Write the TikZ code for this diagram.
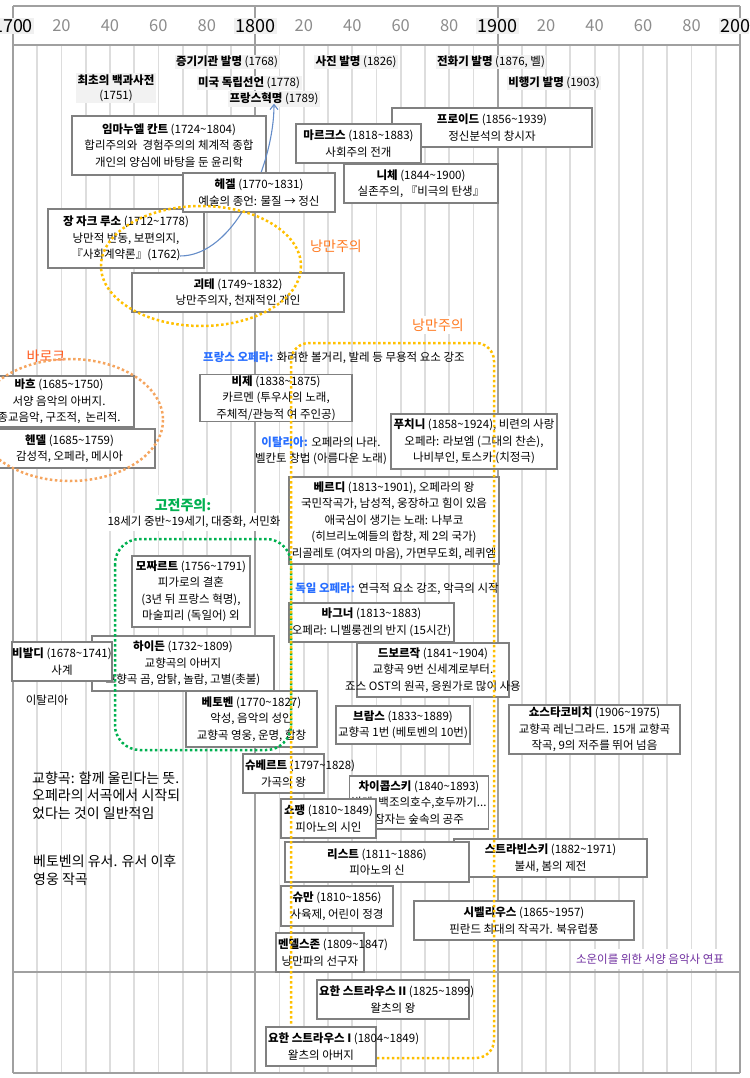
\documentclass[tikz,border=0pt]{standalone}
\usepackage{fontspec}
\setmainfont{Noto Sans CJK KR}
\usetikzlibrary{arrows.meta}

\definecolor{gridlight}{RGB}{221,221,221}
\definecolor{griddark}{RGB}{160,160,160}
\definecolor{boxline}{RGB}{128,128,128}
\definecolor{eventbg}{RGB}{242,242,242}
\definecolor{romanorange}{RGB}{255,120,30}
\definecolor{baroqueorange}{RGB}{255,90,30}
\definecolor{baroquedots}{RGB}{245,165,95}
\definecolor{romangold}{RGB}{255,192,0}
\definecolor{classicgreen}{RGB}{0,176,80}
\definecolor{operablue}{RGB}{40,110,255}
\definecolor{captionpurple}{RGB}{112,48,160}
\definecolor{arrowblue}{RGB}{100,140,200}

\tikzset{
  minorline/.style={gridlight, line width=1.8pt},
  majorline/.style={griddark, line width=2pt},
  yearlab/.style={text=black!45, font=\fontsize{16.5}{16.5}\selectfont},
  centlab/.style={fill=black!6, inner sep=1.5pt, font=\fontsize{18}{18}\selectfont},
  event/.style={fill=eventbg, inner sep=1.5pt, align=center, font=\fontsize{11.5}{15}\selectfont},
  box/.style={draw=boxline, line width=1.2pt, fill=white, align=center, inner xsep=2pt, inner ysep=1pt, font=\fontsize{11.5}{16.5}\selectfont},
  wh/.style 2 args={minimum width=#1pt, minimum height=#2pt},
  plain/.style={align=center, inner sep=1pt, font=\fontsize{11.5}{16.5}\selectfont},
  eralab/.style={font=\fontsize{14}{15}\selectfont, inner sep=1pt},
  bignote/.style={align=left, inner sep=0pt, font=\fontsize{14}{17.5}\selectfont},
  golddots/.style={romangold, line width=2.5pt, dash pattern=on 2.5pt off 2.5pt},
  histarrow/.style={arrowblue, line width=1.1pt, -{Straight Barb[length=5pt, width=8pt]}}
}

\begin{document}
\begin{tikzpicture}[x=1pt, y=-1pt]
\useasboundingbox (0,0) rectangle (749,1078);
\clip (0,0) rectangle (749,1078);

% time axis
\foreach \k in {1,...,29}
  \draw[minorline] ({13+24.233*\k},45) -- ({13+24.233*\k},1073);
\foreach \k in {0,10,20,30}
  \draw[majorline] ({13+24.233*\k},6) -- ({13+24.233*\k},1073);
\foreach \y in {6,45,972,1073}
  \draw[majorline] (13,\y) -- (740,\y);
\foreach \k/\lab in {2/20,4/40,6/60,8/80,12/20,14/40,16/60,18/80,22/20,24/40,26/60,28/80}
  \node[yearlab] (y\k) at ({13+24.233*\k},26) {\lab};
\foreach \k/\lab in {0/1700,10/1800,20/1900,30/2000}
  \node[centlab] (c\k) at ({13+24.233*\k},26) {\lab};

% events
\node[event] (steam) at (227,62) {\textbf{증기기관 발명} (1768)};
\node[event] (photo) at (356,62) {\textbf{사진 발명} (1826)};
\node[event] (phone) at (491,62) {\textbf{전화기 발명} (1876, 벨)};
\node[event] (encyc) at (116,88) {\textbf{최초의 백과사전}\\(1751)};
\node[event] (usa) at (249,83) {\textbf{미국 독립선언} (1778)};
\node[event] (france) at (274,99) {\textbf{프랑스혁명} (1789)};
\node[event] (plane) at (554,83) {\textbf{비행기 발명} (1903)};

% philosophers
\node[box, wh={200}{39}] (freud) at (492,127.5) {\textbf{프로이드} (1856\textasciitilde1939)\\정신분석의 창시자};
\node[box, wh={125}{39}] (marx) at (358.5,143.5) {\textbf{마르크스} (1818\textasciitilde1883)\\사회주의 전개};
\node[box, wh={154}{39}] (nietzsche) at (421,183.5) {\textbf{니체} (1844\textasciitilde1900)\\실존주의, 『비극의 탄생』};
\node[box, wh={156}{59}] (rousseau) at (126,238.5) {\textbf{장 자크 루소} (1712\textasciitilde1778)\\낭만적 반동, 보편의지,\\『사회계약론』(1762)};
\node[box, wh={194}{59}] (kant) at (169,145.5) {\textbf{임마누엘 칸트} (1724\textasciitilde1804)\\합리주의와\ \ 경험주의의 체계적 종합\\개인의 양심에 바탕을 둔 윤리학};
\coordinate (contract) at (180,256);
\draw[histarrow] (contract) .. controls +(55,0) and +(0,60) .. ([yshift=3pt]france.south);
\node[box, wh={152}{39}] (hegel) at (259,192.5) {\textbf{헤겔} (1770\textasciitilde1831)\\예술의 종언: 물질 → 정신};
\node[box, wh={212}{39}] (goethe) at (238,292.5) {\textbf{괴테} (1749\textasciitilde1832)\\낭만주의자, 천재적인 개인};

% era labels and opera notes
\node[eralab, text=romanorange] (roman1) at (336,246) {낭만주의};
\node[eralab, text=romanorange, fill=white, inner sep=3pt] (roman2) at (438,325) {낭만주의};
\node[eralab, text=baroqueorange] (baroque) at (46,356) {바로크};
\node[plain] (frenchop) at (334,358) {\textcolor{operablue}{\textbf{프랑스 오페라:}} 화려한 볼거리, 발레 등 무용적 요소 강조};
\node[plain] (italyop) at (321,451) {\textcolor{operablue}{\textbf{이탈리아:}} 오페라의 나라.\\벨칸토 창법 (아름다운 노래)};
\node[plain] (germanop) at (397,589) {\textcolor{operablue}{\textbf{독일 오페라:}} 연극적 요소 강조, 악극의 시작};

% baroque
\node[box, wh={150}{51}] (bach) at (59,401.5) {\textbf{바흐} (1685\textasciitilde1750)\\서양 음악의 아버지.\\종교음악, 구조적,\ \ 논리적.};
\node[box, wh={171}{39}] (handel) at (69.5,448.5) {\textbf{헨델} (1685\textasciitilde1759)\\감성적, 오페라, 메시아};

% romantic composers
\node[box, wh={152}{46}] (bizet) at (276,398) {\textbf{비제} (1838\textasciitilde1875)\\카르멘 (투우사의 노래,\\주체적/관능적 여 주인공)};
\node[box, wh={166}{55}] (puccini) at (474,441.5) {\textbf{푸치니} (1858\textasciitilde1924), 비련의 사랑\\오페라: 라보엠 (그대의 찬손),\\나비부인, 토스카 (치정극)};
\node[box, wh={210}{87}] (verdi) at (394,520.5) {\textbf{베르디} (1813\textasciitilde1901), 오페라의 왕\\국민작곡가, 남성적, 웅장하고 힘이 있음\\애국심이 생기는 노래: 나부코\\(히브리노예들의 합창, 제 2의 국가)\\리골레토 (여자의 마음), 가면무도회, 레퀴엠};
\node[box, wh={165}{39}] (wagner) at (371.5,622.5) {\textbf{바그너} (1813\textasciitilde1883)\\오페라: 니벨룽겐의 반지 (15시간)};
\node[box, wh={152}{54}] (dvorak) at (433,670) {\textbf{드보르작} (1841\textasciitilde1904)\\교향곡 9번 신세계로부터.\\\makebox[0pt]{죠스 OST의 원곡, 응원가로 많이 사용}};
\node[box, wh={132}{38}] (brahms) at (403,725) {\textbf{브람스} (1833\textasciitilde1889)\\교향곡 1번 (베토벤의 10번)};
\node[box, wh={171}{49}] (shosta) at (594.5,729.5) {\textbf{쇼스타코비치} (1906\textasciitilde1975)\\교향곡 레닌그라드. 15개 교향곡\\작곡, 9의 저주를 뛰어 넘음};

% classicism
\node[plain, fill=white, inner xsep=3pt, inner ysep=3pt] (classicnote) at (194,522) {18세기 중반\textasciitilde19세기, 대중화, 서민화};
\node[eralab, text=classicgreen, fill=white, inner sep=3pt] (classic) at (183,505) {\textbf{고전주의:}};
\node[box, wh={182}{55}] (haydn) at (183,663.5) {\textbf{하이든} (1732\textasciitilde1809)\\교향곡의 아버지\\교향곡 곰, 암탉, 놀람, 고별(촛불)};
\node[box, wh={100}{39}] (vivaldi) at (62,661.5) {\makebox[0pt]{\textbf{비발디} (1678\textasciitilde1741)}\\사계};
\node[box, wh={118}{71}] (mozart) at (191,591.5) {\textbf{모짜르트} (1756\textasciitilde1791)\\피가로의 결혼\\(3년 뒤 프랑스 혁명),\\마술피리 (독일어) 외};
\node[box, wh={131}{56}] (beethoven) at (251.5,719) {\textbf{베토벤} (1770\textasciitilde1827)\\악성, 음악의 성인\\교향곡 영웅, 운명, 합창};
\node[box, wh={81}{39}] (schubert) at (283.5,773.5) {\makebox[77pt][l]{\textbf{슈베르트} (1797\textasciitilde1828)}\\가곡의 왕};
\node[box, wh={132}{53}] (tchaikovsky) at (419,802.5) {\textbf{차이콥스키} (1840\textasciitilde1893)\\발레, 백조의호수,호두까기...\\잠자는 숲속의 공주};
\node[box, wh={95}{39}] (chopin) at (328.5,818.5) {\textbf{쇼팽} (1810\textasciitilde1849)\\피아노의 시인};
\node[box, wh={193}{38}] (stravinsky) at (550.5,858) {\textbf{스트라빈스키} (1882\textasciitilde1971)\\불새, 봄의 제전};
\node[box, wh={184}{40}] (liszt) at (377,862) {\textbf{리스트} (1811\textasciitilde1886)\\피아노의 신};
\node[box, wh={112}{40}] (schumann) at (337,906) {\textbf{슈만} (1810\textasciitilde1856)\\사육제, 어린이 정경};
\node[box, wh={220}{39}] (sibelius) at (524,920.5) {\textbf{시벨리우스} (1865\textasciitilde1957)\\핀란드 최대의 작곡가. 북유럽풍};
\node[box, wh={88}{39}] (mendelssohn) at (320,952.5) {\makebox[84pt][l]{\textbf{멘델스존} (1809\textasciitilde1847)}\\낭만파의 선구자};
\node[box, wh={152}{39}] (straussII) at (393,999.5) {\makebox[148pt][l]{\textbf{요한 스트라우스 II} (1825\textasciitilde1899)}\\왈츠의 왕};

% notes
\node[plain] (italy) at (47,700) {이탈리아};
\node[bignote, anchor=west] (symphnote) at (32,795.5) {교향곡: 함께 울린다는 뜻.\\오페라의 서곡에서 시작되\\었다는 것이 일반적임};
\node[bignote, anchor=west] (willnote) at (33,870) {베토벤의 유서. 유서 이후\\영웅 작곡};
\node[plain, text=captionpurple, fill=white, inner xsep=4pt, inner ysep=5pt] (caption) at (650,959) {소운이를 위한 서양 음악사 연표};

% eras
\draw[golddots] (201,266) ellipse [x radius=100, y radius=60];
\draw[baroquedots, line width=2.5pt, dash pattern=on 2.5pt off 2.5pt] (70,420) ellipse [x radius=93, y radius=61];
\draw[classicgreen, line width=2.5pt, dash pattern=on 2.5pt off 2.5pt, rounded corners=25pt] (115,539) rectangle (291,750);
\draw[golddots, rounded corners=18pt] (291,343) rectangle (494,1058);

\node[box, wh={110}{39}] (straussI) at (321,1046.5) {\makebox[106pt][l]{\textbf{요한 스트라우스 I} (1804\textasciitilde1849)}\\왈츠의 아버지};
\end{tikzpicture}
\end{document}
